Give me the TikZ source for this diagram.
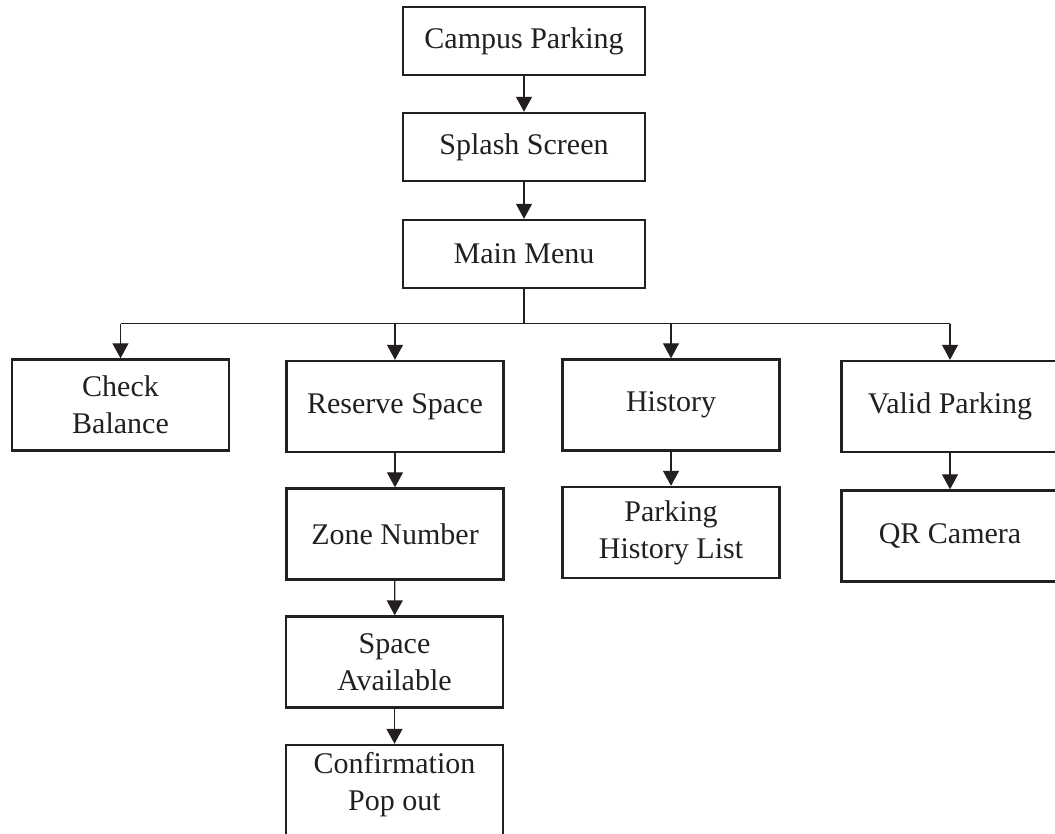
\documentclass[tikz,border=0pt]{standalone}
\usepackage{fontspec}
\setmainfont{Liberation Serif}
\usetikzlibrary{arrows.meta}
\definecolor{ink}{RGB}{35,31,32}
\begin{document}
\begin{tikzpicture}[x=1pt,y=-1pt,
  box/.style={draw=ink, line width=2.4pt, rectangle, inner sep=0pt, text=ink,
    align=center, font=\fontsize{30}{37}\selectfont},
  wide/.style={box, minimum width=242pt, minimum height=68pt},
  std/.style={box, minimum width=217pt, minimum height=91pt},
  arr/.style={draw=ink, line width=1.2pt, -{Triangle[length=15pt,width=16pt]}},
  ln/.style={draw=ink, line width=1.2pt}]
\useasboundingbox (0,0) rectangle (1055,833);
\node[wide] (campus) at (524,41) {Campus Parking};
\node[wide] (splash) at (524,147) {Splash Screen};
\node[wide] (main) at (524,254) {Main Menu};
\node[std] (check) at (120.5,405) {Check\\Balance};
\node[std] (reserve) at (395,406.5) {Reserve Space};
\node[std] (history) at (671,405) {History};
\node[std] (valid) at (950,406.5) {Valid Parking};
\node[std] (zone) at (395,534) {Zone Number};
\node[std] (avail) at (394.5,662) {Space\\Available};
\node[std] (confirm) at (394.5,790.5) {};
\node[text=ink, align=center, font=\fontsize{30}{37}\selectfont] (confirmtext) at (394.5,785) {Confirmation\\Pop out};
\node[std] (phl) at (671,532.5) {Parking\\History List};
\node[std] (qr) at (950,536) {QR Camera};
\coordinate (bus) at (0,323.5);
\draw[arr] (campus) -- (splash);
\draw[arr] (splash) -- (main);
\draw[ln] (main.south) -- (main.south |- bus);
\draw[ln] (check.north |- bus) -- (valid.north |- bus);
\draw[arr] (check.north |- bus) -- (check.north);
\draw[arr] (reserve.north |- bus) -- (reserve.north);
\draw[arr] (history.north |- bus) -- (history.north);
\draw[arr] (valid.north |- bus) -- (valid.north);
\draw[arr] (reserve) -- (zone);
\draw[arr] (zone) -- (avail);
\draw[arr] (avail) -- (confirm);
\draw[arr] (history) -- (phl);
\draw[arr] (valid) -- (qr);
\end{tikzpicture}
\end{document}
